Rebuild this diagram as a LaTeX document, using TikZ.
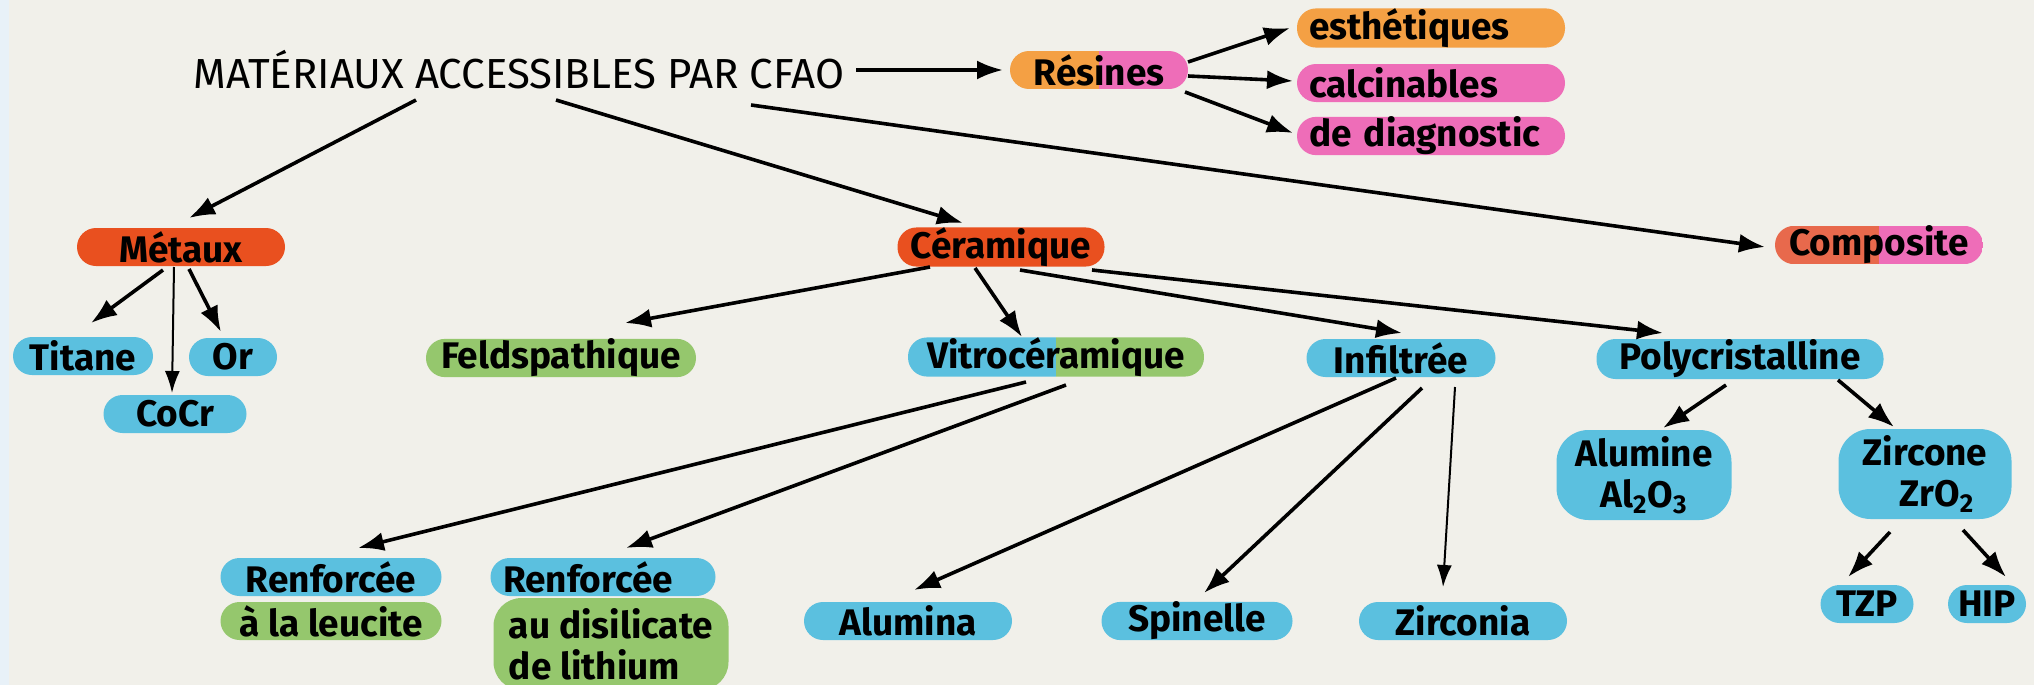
\documentclass[tikz,border=0pt]{standalone}
\usepackage{fontspec}
\setmainfont{Fira Sans}
\usetikzlibrary{calc,arrows.meta}

\definecolor{bgcol}{HTML}{F1F0EA}
\definecolor{stripcol}{HTML}{E8F1F8}
\definecolor{redor}{HTML}{E9501F}
\definecolor{orng}{HTML}{F4A044}
\definecolor{pinkc}{HTML}{EE6DB8}
\definecolor{salmon}{HTML}{E8694C}
\definecolor{blu}{HTML}{5BC0DF}
\definecolor{grn}{HTML}{95C76D}

\newcommand\lblfont{\fontsize{18.5}{20.5}\selectfont\bfseries}
\newcommand\ttlfont{\fontsize{21}{24}\selectfont}

\tikzset{
  box/.style={fill=#1,rounded corners=9.5pt,inner xsep=5pt,inner ysep=0pt,
    minimum height=19pt,font=\lblfont,text=black},
  twobox/.style 2 args={box=none,path picture={
      \fill[#1,sharp corners] (path picture bounding box.south west) rectangle (path picture bounding box.north);
      \fill[#2,sharp corners] (path picture bounding box.south) rectangle (path picture bounding box.north east);}},
  listbox/.style={text width=122pt,inner xsep=6pt,align=left},
  bigbox/.style={rounded corners=16pt,align=center,minimum height=45pt},
  arr/.style={-{Latex[length=13pt,width=9.5pt]},line width=1.8pt},
  thinarr/.style={-{Latex[length=11pt,width=7.5pt]},line width=1pt},
}

\begin{document}
\begin{tikzpicture}[x=0.5pt,y=-0.5pt]
  \useasboundingbox (0,0) rectangle (2034,685);
  \fill[bgcol] (0,0) rectangle (2034,685);
  \fill[stripcol] (0,0) rectangle (9,685);

  % title and resins
  \node[font=\ttlfont,inner sep=0pt,minimum width=327pt] (title) at (519,70) {MATÉRIAUX ACCESSIBLES PAR CFAO};
  \node[twobox={orng}{pinkc},minimum width=89pt] (resines) at (1099,70) {Résines};
  \node[box=orng,listbox] (esth) at (1431,28) {esthétiques};
  \node[box=pinkc,listbox] (calc) at (1431,83) {calcinables};
  \node[box=pinkc,listbox] (diag) at (1431,136) {de diagnostic};
  \node[twobox={salmon}{pinkc},minimum width=104pt] (composite) at (1879,245) {Composite};

  % metals
  \node[box=redor,minimum width=104pt] (metaux) at (181,247) {Métaux};
  \node[box=blu,minimum width=70pt] (titane) at (83,356) {Titane};
  \node[box=blu,minimum width=44pt] (or) at (233,357) {Or};
  \node[box=blu,minimum width=71.5pt] (cocr) at (175,414) {CoCr};

  % ceramics
  \node[box=redor,minimum width=103.5pt] (ceram) at (1001,247) {Céramique};
  \node[box=grn,minimum width=135pt] (feld) at (561,358) {Feldspathique};
  \node[twobox={blu}{grn},minimum width=148pt] (vitro) at (1056,357) {Vitrocéramique};
  \node[box=blu,minimum width=94.5pt] (infil) at (1401,358) {Infiltrée};
  \node[box=blu,minimum width=143.5pt,minimum height=20pt] (poly) at (1740,359) {Polycristalline};

  % glass ceramics
  \node[box=blu,minimum width=110.5pt] (leuc1) at (331,577) {Renforcée};
  \node[box=grn,minimum width=110.5pt] (leuc2) at (331,621) {à la leucite};
  \node[box=blu,minimum width=112.5pt,text width=100pt,align=left] (disil1) at (603,577) {Renforcée};
  \node[box=grn,rounded corners=14pt,minimum height=46pt,minimum width=117.5pt,align=left] (disil2) at (611,644) {au disilicate\\de lithium};

  % infiltrated
  \node[box=blu,minimum width=104pt] (alumina) at (908,621) {Alumina};
  \node[box=blu,minimum width=95.5pt] (spinelle) at (1197,621) {Spinelle};
  \node[box=blu,minimum width=104pt] (zirconia) at (1463,621) {Zirconia};

  % polycrystalline
  \node[box=blu,bigbox,minimum width=87.5pt] (alumine) at (1644,475) {Alumine\\Al\textsubscript{2}O\textsubscript{3}};
  \node[box=blu,bigbox,minimum width=86.5pt] (zircone) at (1925,474) {Zircone\\\hspace*{12pt}ZrO\textsubscript{2}};
  \node[box=blu,minimum width=46.5pt] (tzp) at (1867,604) {TZP};
  \node[box=blu,minimum width=39pt] (hip) at (1987,604) {HIP};

  % arrows
  \draw[arr] ($(title)+(337,0)$) -- ($(resines)+(-96,0)$);
  \draw[arr] ($(resines)+(89,-8)$) -- ($(esth)+(-141,0)$);
  \draw[arr] ($(resines)+(89,6)$) -- ($(calc)+(-138,-2)$);
  \draw[arr] ($(resines)+(86,22)$) -- ($(diag)+(-138,-3)$);
  \draw[arr] ($(title)+(232,35)$) -- ($(composite)+(-114,2)$);
  \draw[arr] ($(title)+(-103,30)$) -- ($(metaux)+(8,-29)$);
  \draw[arr] ($(title)+(37,30)$) -- ($(ceram)+(-38,-24)$);
  \draw[arr] ($(metaux)+(-18,23)$) -- ($(titane)+(8,-33)$);
  \draw[thinarr] ($(metaux)+(-7,20)$) -- ($(cocr)+(-3,-21)$);
  \draw[arr] ($(metaux)+(8,22)$) -- ($(or)+(-12,-25)$);
  \draw[arr] ($(ceram)+(-71,20)$) -- ($(feld)+(64,-35)$);
  \draw[arr] ($(ceram)+(-26,21)$) -- ($(vitro)+(-34,-20)$);
  \draw[arr] ($(ceram)+(19,23)$) -- ($(infil)+(1,-25)$);
  \draw[arr] ($(ceram)+(91,23)$) -- ($(poly)+(-77,-26)$);
  \draw[arr] ($(vitro)+(-30,25)$) -- ($(leuc1)+(27,-29)$);
  \draw[arr] ($(vitro)+(10,28)$) -- ($(disil1)+(23,-29)$);
  \draw[arr] ($(infil)+(-5,20)$) -- ($(alumina)+(6,-31)$);
  \draw[arr] ($(infil)+(21,30)$) -- ($(spinelle)+(7,-28)$);
  \draw[thinarr] ($(infil)+(54,29)$) -- ($(zirconia)+(-20,-34)$);
  \draw[arr] ($(poly)+(-14,26)$) -- ($(alumine)+(19,-47)$);
  \draw[arr] ($(poly)+(98,21)$) -- ($(zircone)+(-31,-47)$);
  \draw[arr] ($(zircone)+(-35,58)$) -- ($(tzp)+(-19,-27)$);
  \draw[arr] ($(zircone)+(38,56)$) -- ($(hip)+(19,-27)$);
\end{tikzpicture}
\end{document}
